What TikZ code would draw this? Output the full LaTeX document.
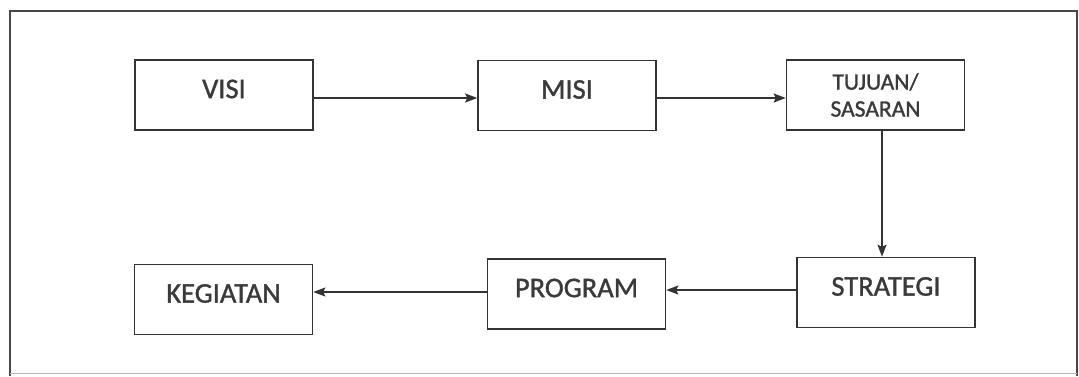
\documentclass[tikz,border=0pt]{standalone}
\usepackage{fontspec}
\setmainfont{Carlito}
\newfontfamily\boxfont[FakeBold=1.2]{Carlito}
\usetikzlibrary{arrows.meta}
\definecolor{ink}{HTML}{333333}
\definecolor{txt}{HTML}{3A3A3A}
\tikzset{
  box/.style={draw=ink, line width=1.6pt, minimum width=178pt, minimum height=70pt, inner sep=0pt},
  lbl/.style={text=txt, font=\boxfont\fontsize{28.5}{32}\selectfont, yshift=6pt},
  lblsmall/.style={text=txt, font=\boxfont\fontsize{23.5}{27}\selectfont, align=center},
  arr/.style={draw=ink, line width=1.4pt, -{Stealth[length=12pt,width=9pt,inset=2pt]}},
  frame/.style={draw=ink!90, line width=1.6pt}
}
\begin{document}
\begin{tikzpicture}[x=1pt,y=-1pt]
\fill[white] (0,0) rectangle (1079,376);
\useasboundingbox (0,0) rectangle (1079,376);
\draw[frame] (10,376) -- (10,11) -- (1077,11) -- (1077,376);
\draw[draw=ink!35, line width=1pt] (10,373) -- (1077,373);

\node[box, label={[lbl]center:VISI}] (visi) at (224,95) {};
\node[box, label={[lbl]center:MISI}] (misi) at (567,95.5) {};
\node[box, label={[lblsmall]center:TUJUAN/\\SASARAN}] (tujuan) at (875.5,95) {};
\node[box, label={[lbl]center:STRATEGI}] (strategi) at (886,292.5) {};
\node[box, label={[lbl]center:PROGRAM}] (program) at (576.5,294) {};
\node[box, label={[lbl]center:KEGIATAN}] (kegiatan) at (223.5,299.5) {};

\draw[arr] ([yshift=-3pt]visi.east) -- ([yshift=-3pt]visi.east -| misi.west);
\draw[arr] ([yshift=-2.5pt]misi.east) -- ([yshift=-2.5pt]misi.east -| tujuan.west);
\draw[arr] ([xshift=6.5pt]tujuan.south) -- ([xshift=6.5pt]tujuan.south |- strategi.north);
\draw[arr] ([yshift=2.5pt]strategi.west) -- ([yshift=2.5pt]strategi.west -| program.east);
\draw[arr] ([yshift=2pt]program.west) -- ([yshift=2pt]program.west -| kegiatan.east);
\end{tikzpicture}
\end{document}
